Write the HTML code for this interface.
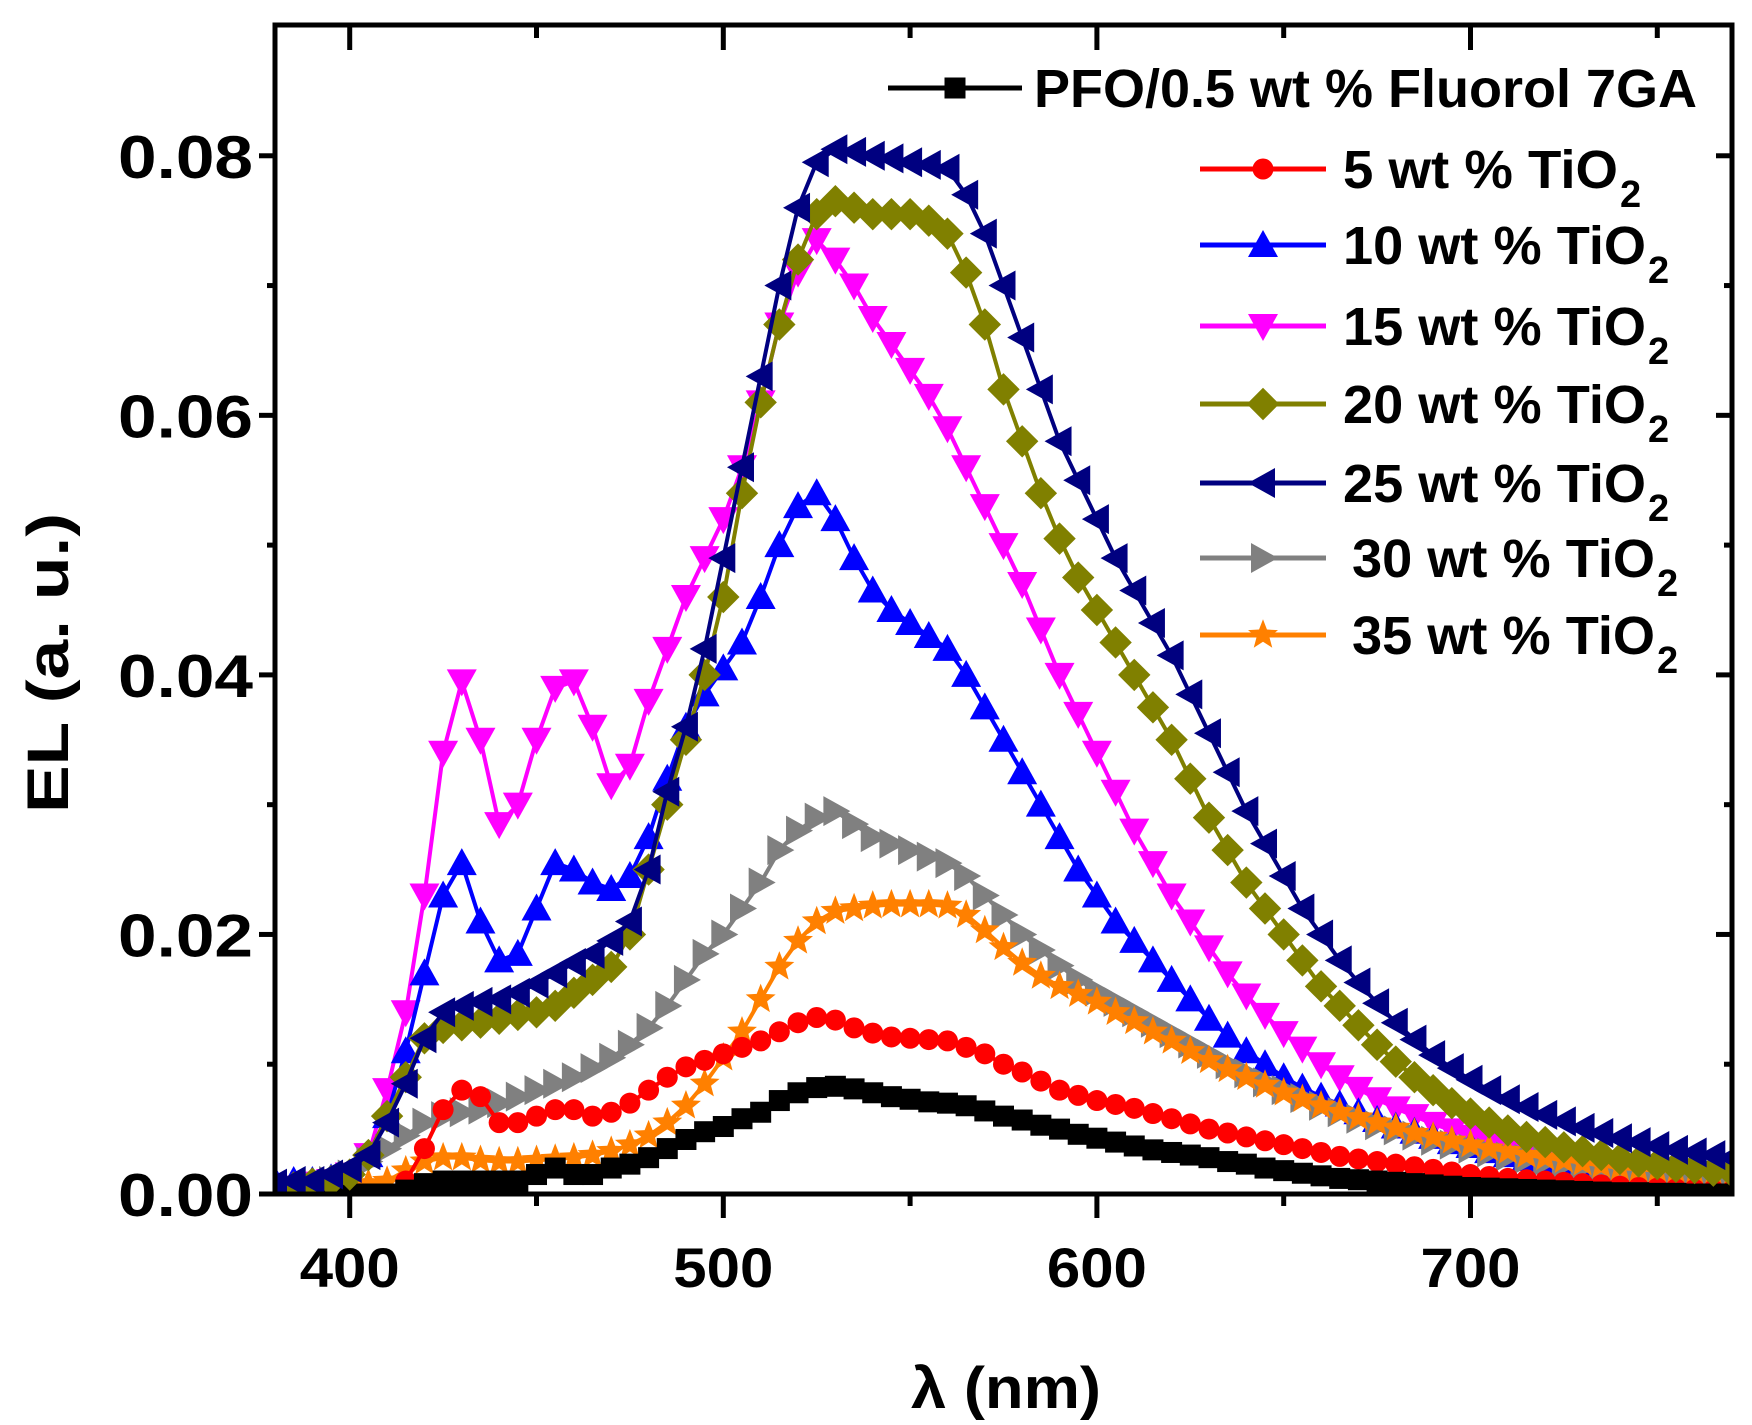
<!DOCTYPE html>
<html><head><meta charset="utf-8"><style>
html,body{margin:0;padding:0;background:#fff;}
svg{display:block;font-family:"Liberation Sans",Arial,sans-serif;font-weight:bold;}
</style></head><body>
<svg id="chart" width="1752" height="1425" viewBox="0 0 1752 1425" xmlns="http://www.w3.org/2000/svg">
<defs><clipPath id="plotclip"><rect x="277" y="26" width="1453" height="1166"/></clipPath></defs>
<g id="series" clip-path="url(#plotclip)"></g>
<rect x="275" y="25" width="1457" height="1169" fill="none" stroke="#000" stroke-width="5"/>
<g id="axes"></g>
<text transform="translate(68,663) rotate(-90)" text-anchor="middle" font-size="58" textLength="300" lengthAdjust="spacingAndGlyphs">EL (a. u.)</text>
<text x="1006" y="1408" text-anchor="middle" font-size="58" textLength="190" lengthAdjust="spacingAndGlyphs">λ (nm)</text>
<g id="legend"></g>
</svg>
<script>
const wavelengths=[380,385,390,395,400,405,410,415,420,425,430,435,440,445,450,455,460,465,470,475,480,485,490,495,500,505,510,515,520,525,530,535,540,545,550,555,560,565,570,575,580,585,590,595,600,605,610,615,620,625,630,635,640,645,650,655,660,665,670,675,680,685,690,695,700,705,710,715,720,725,730,735,740,745,750,755,760,765,770];
const pfo=[0,0,0,0,0,0,0,0.3,0.8,1,1,1,1,1,1.5,2,1.5,1.5,2,2.3,2.8,3.5,4.2,4.8,5.2,5.8,6.3,7.2,7.8,8.2,8.3,8.1,7.8,7.5,7.3,7.1,7,6.8,6.4,6,5.7,5.3,5,4.6,4.3,4,3.7,3.4,3.2,3,2.8,2.5,2.3,2,1.8,1.6,1.4,1.2,1.1,1,0.9,0.8,0.7,0.6,0.5,0.45,0.4,0.35,0.3,0.25,0.2,0.15,0.1,0.1,0.05,0.05,0,0,0];
const tio5=[0,0,0,0,0,0,0,1,3.5,6.5,8,7.5,5.5,5.5,6,6.5,6.5,6,6.3,7,8,9,9.8,10.3,10.8,11.3,11.8,12.5,13.2,13.6,13.4,12.8,12.4,12.1,12,11.9,11.8,11.3,10.8,10,9.4,8.7,8,7.6,7.2,6.9,6.6,6.2,5.8,5.4,5,4.7,4.4,4.1,3.8,3.5,3.2,2.9,2.7,2.5,2.3,2.1,1.9,1.7,1.5,1.35,1.2,1.1,1,0.9,0.8,0.7,0.6,0.5,0.45,0.4,0.35,0.3,0.25];
const tio10=[1,1,1,1.2,1.5,3,6,11,17,23,25.5,21,18,18.5,22,25.5,25,24,23.5,24.5,27.5,32,36,38.5,40.5,42.5,46,50,53,54,52,49,46.5,45,44,43,42,40,37.5,35,32.5,30,27.5,25,23,21,19.5,18,16.5,15,13.5,12.2,11,10,9,8.2,7.5,6.9,6.3,5.7,5.2,4.8,4.4,4,3.7,3.3,3,2.7,2.5,2.2,2,1.8,1.6,1.4,1.3,1.1,1,0.9,0.8];
const tio15=[0.5,0.5,0.8,1,1.5,3,8,14,23,34,39.5,35,28.5,30,35,39,39.5,36,31.5,33,38,42,46,49,52,56,61,67,71,73.5,72,70,67.5,65.5,63.5,61.5,59,56,53,50,47,43.5,40,37,34,31,28,25.5,23,21,19,17,15.3,13.8,12.4,11.2,10,9,8.1,7.3,6.6,6,5.4,4.9,4.4,4,3.6,3.3,3,2.7,2.5,2.3,2.1,1.9,1.7,1.6,1.5,1.4,1.3];
const tio20=[0.5,0.5,0.8,1,1.5,3,6,9,12,12.8,13,13.2,13.5,13.8,14,14.5,15.5,16.5,17.5,20,25,30,35,40,46,54,61,67,72,75.5,76.5,76,75.5,75.5,75.5,75,74,71,67,62,58,54,50.5,47.5,45,42.5,40,37.5,35,32,29,26.5,24,22,20,18,16,14.5,13,11.5,10.2,9,8,7,6.2,5.5,4.9,4.4,4,3.6,3.3,3,2.7,2.5,2.3,2.1,2,1.8,1.7];
const tio25=[0.8,1,1,1.5,2,3,5.5,8.5,12,14,14.5,14.8,15,15.5,16.2,17,17.8,18.5,19.5,21,25,31,36,42,49,56,63,70,76,79.5,80.5,80.3,80,79.8,79.5,79.3,79,77,74,70,66,62,58,55,52,49,46.5,44,41.5,38.5,35.5,32.5,29.5,27,24.5,22,20,18,16.3,14.7,13.2,11.9,10.7,9.7,8.8,8,7.3,6.7,6.1,5.6,5.1,4.7,4.3,4,3.7,3.4,3.2,3,2.8];
const tio30=[0.5,0.5,0.7,1,1.5,2.5,3.5,4.5,5.5,6,6.3,6.5,7,7.5,8,8.5,9,9.7,10.5,11.5,12.8,14.5,16.5,18.5,20,22,24,26.5,28,29,29.5,28.5,27.5,27,26.5,26,25.5,24.5,23,21.5,20,18.8,17.6,16.5,15.6,14.8,14,13.2,12.4,11.6,10.8,10,9.3,8.6,8,7.4,6.8,6.3,5.8,5.3,4.9,4.5,4.1,3.8,3.5,3.2,2.9,2.7,2.5,2.3,2.1,1.9,1.8,1.6,1.5,1.4,1.3,1.2,1.1];
const tio35=[0.2,0.3,0.4,0.5,0.6,0.8,1,1.8,2.5,2.8,2.8,2.6,2.5,2.5,2.6,2.7,2.8,3,3.3,3.8,4.5,5.5,6.8,8.5,10.5,12.5,15,17.5,19.5,21,21.8,22,22.2,22.3,22.3,22.3,22.2,21.5,20.3,19,17.8,16.8,16,15.4,14.8,14,13.3,12.5,11.8,11,10.3,9.6,9,8.4,7.8,7.3,6.8,6.3,5.9,5.5,5.1,4.7,4.4,4.1,3.8,3.5,3.3,3,2.8,2.6,2.4,2.2,2,1.9,1.8,1.7,1.6,1.5,1.4];
const xTicks=[400,500,600,700];
const xMinor=[450,550,650,750];
const yTicks=[0,0.02,0.04,0.06,0.08];
const yTickLabels=["0.00","0.02","0.04","0.06","0.08"];
const yMinor=[0.01,0.03,0.05,0.07];

const X0=275,X1=1732,Y0=1194,Y1=26,XMIN=380,XMAX=770,YMIN=0,YMAX=0.09;
function sx(v){return X0+(v-XMIN)/(XMAX-XMIN)*(X1-X0);}
function sy(v){return Y0-(v-YMIN)/(YMAX-YMIN)*(Y0-Y1);}
const NS="http://www.w3.org/2000/svg";
function mk(tag,parent){const e=document.createElementNS(NS,tag);parent.appendChild(e);return e;}

function marker(g,shape,x,y,color,s){
  let e;
  if(shape==='square'){e=mk('rect',g);e.setAttribute('x',x-s/2);e.setAttribute('y',y-s/2);e.setAttribute('width',s);e.setAttribute('height',s);}
  else if(shape==='circle'){e=mk('circle',g);e.setAttribute('cx',x);e.setAttribute('cy',y);e.setAttribute('r',s/2);}
  else{
    let p=[];const h=s*0.6;
    if(shape==='up')p=[[x,y-h],[x+h,y+h*0.8],[x-h,y+h*0.8]];
    else if(shape==='down')p=[[x,y+h],[x+h,y-h*0.8],[x-h,y-h*0.8]];
    else if(shape==='left')p=[[x-h,y],[x+h*0.8,y-h],[x+h*0.8,y+h]];
    else if(shape==='right')p=[[x+h,y],[x-h*0.8,y-h],[x-h*0.8,y+h]];
    else if(shape==='diamond')p=[[x,y-h],[x+h,y],[x,y+h],[x-h,y]];
    else if(shape==='star'){for(let k=0;k<10;k++){const r=k%2?h*0.45:h*1.05;const a=-Math.PI/2+k*Math.PI/5;p.push([x+r*Math.cos(a),y+r*Math.sin(a)]);}}
    e=mk('polygon',g);e.setAttribute('points',p.map(q=>q.join(',')).join(' '));
  }
  e.setAttribute('fill',color);
  
  
}

const seriesDefs=[
 {name:'series-15wt',vals:tio15,color:'#ff00ff',shape:'down',size:25},
 {name:'series-10wt',vals:tio10,color:'#0000ff',shape:'up',size:25},
 {name:'series-30wt',vals:tio30,color:'#808080',shape:'right',size:25},
 {name:'series-35wt',vals:tio35,color:'#ff8000',shape:'star',size:25},
 {name:'series-5wt',vals:tio5,color:'#ff0000',shape:'circle',size:21},
 {name:'series-pfo',vals:pfo,color:'#000000',shape:'square',size:21},
 {name:'series-20wt',vals:tio20,color:'#808000',shape:'diamond',size:27},
 {name:'series-25wt',vals:tio25,color:'#000080',shape:'left',size:25}
];
const sg=document.getElementById('series');
seriesDefs.forEach(d=>{
  const g=mk('g',sg);
  
  
  const pl=mk('polyline',g);
  
  
  pl.setAttribute('points',wavelengths.map((w,i)=>sx(w)+','+sy(d.vals[i]/1000)).join(' '));
  pl.setAttribute('fill','none');pl.setAttribute('stroke',d.color);pl.setAttribute('stroke-width','4');
  wavelengths.forEach((w,i)=>marker(g,d.shape,sx(w),sy(d.vals[i]/1000),d.color,d.size));
});

const ag=document.getElementById('axes');
function line(x1,y1,x2,y2,name){const l=mk('line',ag);l.setAttribute('x1',x1);l.setAttribute('y1',y1);l.setAttribute('x2',x2);l.setAttribute('y2',y2);l.setAttribute('stroke','#000');l.setAttribute('stroke-width','5');
 
 }
xTicks.forEach(v=>{
  line(sx(v),Y0,sx(v),Y0+24,'x-tick');line(sx(v),Y1,sx(v),Y1+24,'x-tick-top');
  const t=mk('text',ag);t.setAttribute('x',sx(v));t.setAttribute('y',1287);t.setAttribute('text-anchor','middle');t.setAttribute('font-size','56');
  t.setAttribute('textLength','100');t.setAttribute('lengthAdjust','spacingAndGlyphs');t.textContent=v;
  
  
});
xMinor.forEach(v=>{line(sx(v),Y0,sx(v),Y0+12,'x-minor-tick');line(sx(v),Y1,sx(v),Y1+12,'x-minor-tick-top');});
yTicks.forEach((v,i)=>{
  line(X0-16,sy(v),X0,sy(v),'y-tick');line(X1,sy(v),X1-16,sy(v),'y-tick-right');
  const t=mk('text',ag);t.setAttribute('x',253);t.setAttribute('y',sy(v)+22);t.setAttribute('text-anchor','end');t.setAttribute('font-size','60');
  t.setAttribute('textLength','135');t.setAttribute('lengthAdjust','spacingAndGlyphs');t.textContent=yTickLabels[i];
  
  
});
yMinor.forEach(v=>{line(X0-8,sy(v),X0,sy(v),'y-minor-tick');line(X1,sy(v),X1-8,sy(v),'y-minor-tick-right');});

const legendLabels=['PFO/0.5 wt % Fluorol 7GA','5 wt % TiO','10 wt % TiO','15 wt % TiO','20 wt % TiO','25 wt % TiO','30 wt % TiO','35 wt % TiO'];
const legendOrder=[5,4,1,0,6,7,2,3];
const legendRows=[88,169,245,326,404,483,558,635];
const lg=document.getElementById('legend');
legendOrder.forEach((si,r)=>{
  const d=seriesDefs[si];const y=legendRows[r];
  const g=mk('g',lg);
  
  
  const x1=r===0?888:1200,x2=r===0?1022:1326;
  const l=mk('line',g);l.setAttribute('x1',x1);l.setAttribute('x2',x2);l.setAttribute('y1',y);l.setAttribute('y2',y);l.setAttribute('stroke',d.color);l.setAttribute('stroke-width','5');
  
  
  marker(g,d.shape,(x1+x2)/2,y,d.color,d.size);
  const t=mk('text',g);t.setAttribute('font-size','54');t.setAttribute('y',y+19);
  
  
  if(r===0){t.setAttribute('x',1034);t.setAttribute('textLength','663');t.setAttribute('lengthAdjust','spacingAndGlyphs');t.textContent=legendLabels[0];}
  else{
    const tx=(r===6||r===7)?1352:1343;
    const w=legendLabels[r].length===10?275:303;
    t.setAttribute('x',tx);t.setAttribute('textLength',w);t.setAttribute('lengthAdjust','spacingAndGlyphs');t.textContent=legendLabels[r];
    const s=mk('text',g);s.setAttribute('font-size','38');s.setAttribute('x',tx+w+2);s.setAttribute('y',y+38);s.textContent='2';
    
    
  }
});
</script>
</body></html>
